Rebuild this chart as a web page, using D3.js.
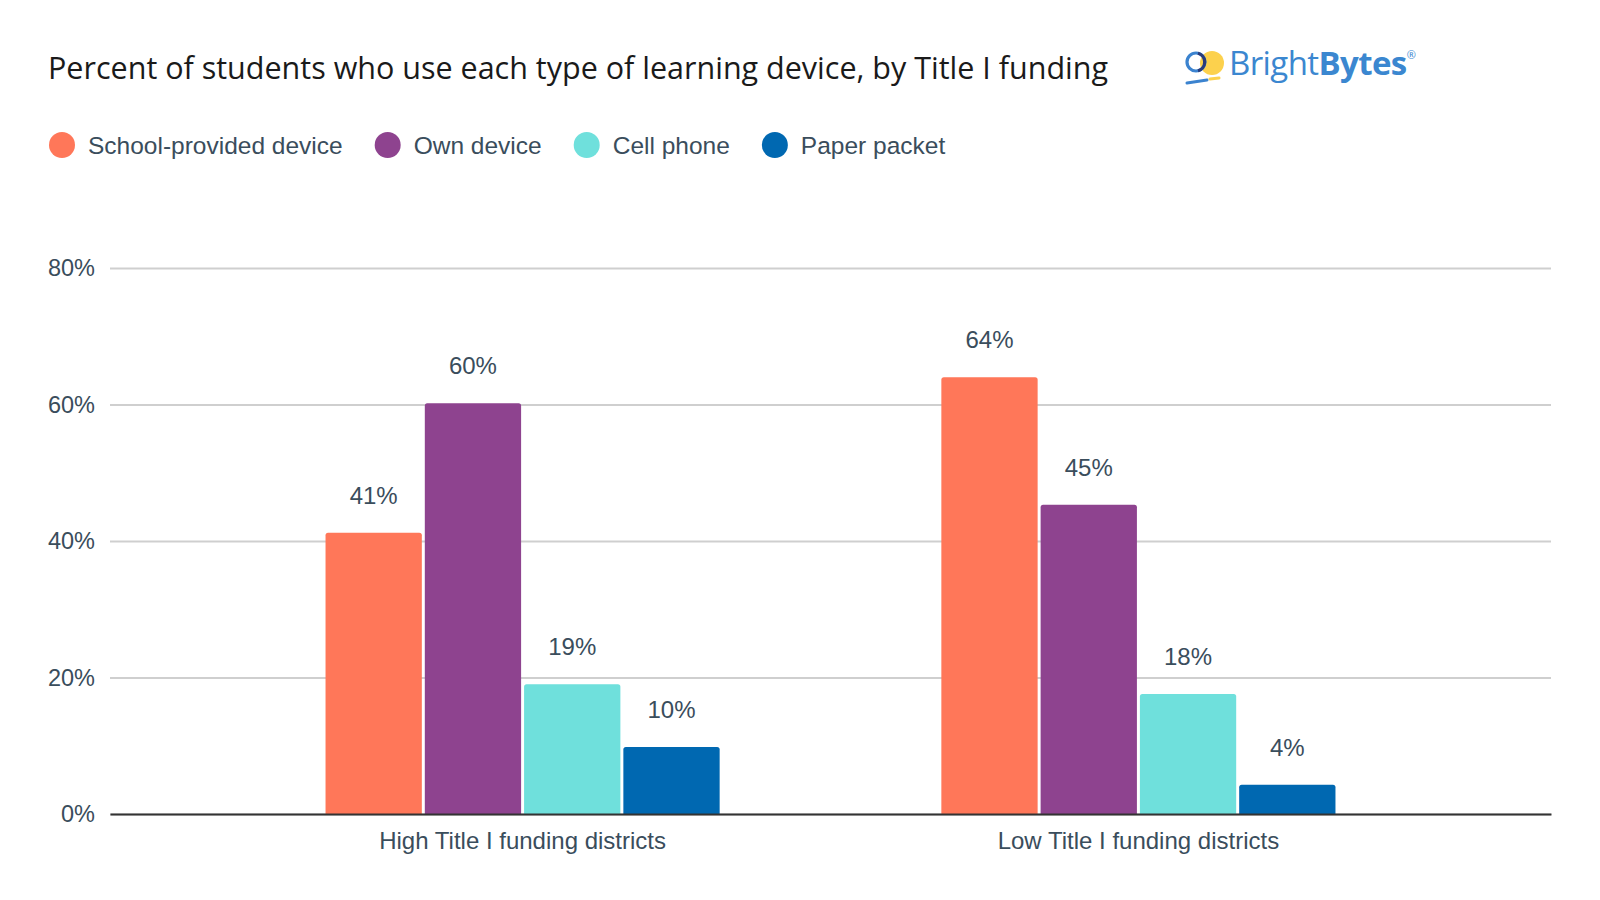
<!DOCTYPE html>
<html>
<head>
<meta charset="utf-8">
<script src="https://cdn.jsdelivr.net/npm/d3@7"></script>
<style>
  body { margin: 0; background: #fff; }
  text { font-family: 'Liberation Sans', Arial, sans-serif; }
</style>
</head>
<body>
<div id="chart"></div>
<script>
// data
const categories = ['High Title I funding districts', 'Low Title I funding districts']
const series = ['School-provided device', 'Own device', 'Cell phone', 'Paper packet']
const highTitleValues = [41.2, 60.2, 19, 9.8]
const lowTitleValues = [64, 45.3, 17.6, 4.3]
const yTicks = [0, 20, 40, 60, 80]
const colors = ['#ff7759', '#8e438f', '#6fe0dc', '#0068b1']

const margin = { top: 268, right: 49, bottom: 86, left: 110 }
const width = 1600 - margin.left - margin.right
const height = 900 - margin.top - margin.bottom

const textColor = '#3a4d5c'

const root = d3
  .select('#chart')
  .append('svg')
  .attr('width', 1600)
  .attr('height', 900)

const svg = root
  .append('g')
  .attr('transform', 'translate(' + margin.left + ',' + margin.top + ')')

const xPositionScale = d3
  .scaleBand()
  .domain(categories)
  .range([0, width])
  .paddingInner(0.36)
  .paddingOuter(0.35)

const xInnerScale = d3
  .scaleBand()
  .domain(series)
  .range([0, xPositionScale.bandwidth()])
  .paddingInner(0.03)

const yPositionScale = d3
  .scaleLinear()
  .domain([0, 80])
  .range([height, 0])

const colorScale = d3.scaleOrdinal().domain(series).range(colors)

const datapoints = []
categories.forEach((c, i) => {
  const vals = i === 0 ? highTitleValues : lowTitleValues
  series.forEach((s, j) => {
    datapoints.push({ category: c, series: s, value: vals[j] })
  })
})

// TITLE
root
  .append('text')
  .attr('x', 48)
  .attr('y', 79)
  .attr('font-size', 30.5)
  .attr('fill', '#1a1a1a')
  .style('font-family', "'Open Sans', sans-serif")
  .text('Percent of students who use each type of learning device, by Title I funding')

// LOGO
const logo = root.append('g').attr('transform', 'translate(1184,39)')
logo.append('circle').attr('cx', 28).attr('cy', 24).attr('r', 12).attr('fill', '#fcd14d')
logo.append('circle').attr('cx', 12).attr('cy', 23).attr('r', 9)
  .attr('fill', 'none').attr('stroke', '#3b83cf').attr('stroke-width', 3.2)
logo.append('path').attr('d', 'M14,14.3 A9,9 0 0 1 14,31.7')
  .attr('fill', 'none').attr('stroke', '#2a3b7a').attr('stroke-width', 3.2)
logo.append('line').attr('x1', 3).attr('y1', 44).attr('x2', 23).attr('y2', 41)
  .attr('stroke', '#3b83cf').attr('stroke-width', 3).attr('stroke-linecap', 'round')
logo.append('line').attr('x1', 26).attr('y1', 40).attr('x2', 35).attr('y2', 39)
  .attr('stroke', '#fcd14d').attr('stroke-width', 3).attr('stroke-linecap', 'round')
const logoText = logo
  .append('text')
  .attr('x', 45)
  .attr('y', 36)
  .attr('font-size', 33)
  .attr('fill', '#3b87d0')
  .style('font-family', "'Open Sans', sans-serif")
  .attr('letter-spacing', -0.6)
logoText.append('tspan').text('Bright')
logoText.append('tspan').attr('font-weight', 'bold').text('Bytes')
logoText.append('tspan').attr('font-size', 11).attr('dy', -16).text('®')

// LEGEND
const legend = root.append('g').attr('transform', 'translate(62,145)')
let legendX = 0
series.forEach(s => {
  const item = legend.append('g').attr('transform', 'translate(' + legendX + ',0)')
  item.append('circle').attr('r', 13).attr('fill', colorScale(s))
  const t = item
    .append('text')
    .attr('x', 26)
    .attr('y', 8.5)
    .attr('font-size', 24.5)
    .attr('fill', textColor)
    .text(s)
  legendX += 26 + t.node().getComputedTextLength() + 45
})

// GRIDLINES
svg
  .append('g')
  .attr('class', 'grid')
  .call(d3.axisLeft(yPositionScale).tickValues(yTicks).tickSize(-width).tickFormat(''))
  .call(g => g.select('.domain').remove())
  .call(g => g.selectAll('line').attr('stroke', '#cfcfcf').attr('stroke-width', 2))

// Y AXIS LABELS
svg
  .append('g')
  .attr('class', 'axis y-axis')
  .call(d3.axisLeft(yPositionScale).tickValues(yTicks).tickSize(0).tickPadding(15).tickFormat(d => d + '%'))
  .call(g => g.select('.domain').remove())
  .call(g => g.selectAll('text')
    .attr('font-size', 23.5)
    .attr('fill', textColor)
    .style('font-family', "'Liberation Sans', Arial, sans-serif"))

// BARS
svg
  .selectAll('.bar')
  .data(datapoints)
  .enter()
  .append('path')
  .attr('class', 'bar')
  .attr('fill', d => colorScale(d.series))
  .attr('d', d => {
    const x0 = xPositionScale(d.category) + xInnerScale(d.series)
    const w = xInnerScale.bandwidth()
    const y0 = yPositionScale(d.value)
    const r = 2.5
    return 'M' + x0 + ',' + height +
      'V' + (y0 + r) +
      'Q' + x0 + ',' + y0 + ' ' + (x0 + r) + ',' + y0 +
      'H' + (x0 + w - r) +
      'Q' + (x0 + w) + ',' + y0 + ' ' + (x0 + w) + ',' + (y0 + r) +
      'V' + height + 'Z'
  })

// VALUE LABELS
svg
  .selectAll('.value-label')
  .data(datapoints)
  .enter()
  .append('text')
  .attr('class', 'value-label')
  .attr('x', d => xPositionScale(d.category) + xInnerScale(d.series) + xInnerScale.bandwidth() / 2)
  .attr('y', d => yPositionScale(d.value) - 29)
  .attr('text-anchor', 'middle')
  .attr('font-size', 24)
  .attr('fill', textColor)
  .text(d => Math.round(d.value) + '%')

// X AXIS
svg
  .append('g')
  .attr('class', 'axis x-axis')
  .attr('transform', 'translate(0,' + height + ')')
  .call(d3.axisBottom(xPositionScale).tickSize(0).tickPadding(18))
  .call(g => g.select('.domain').attr('stroke', '#333').attr('stroke-width', 2))
  .call(g => g.selectAll('text')
    .attr('font-size', 24)
    .attr('fill', textColor)
    .style('font-family', "'Liberation Sans', Arial, sans-serif"))
</script>
</body>
</html>
